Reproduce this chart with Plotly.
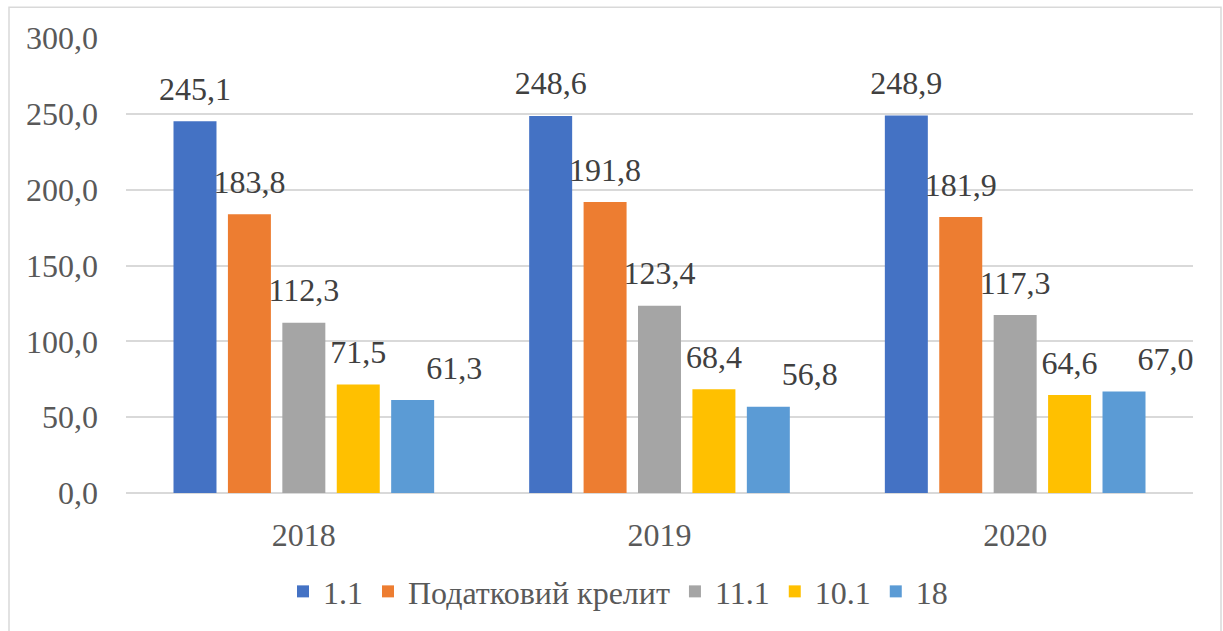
import plotly.graph_objects as go

years = ["2018", "2019", "2020"]
series_names = ["1.1", "Податковий крелит", "11.1", "10.1", "18"]
v_1_1 = [245.1, 248.6, 248.9]
v_credit = [183.8, 191.8, 181.9]
v_11_1 = [112.3, 123.4, 117.3]
v_10_1 = [71.5, 68.4, 64.6]
v_18 = [61.3, 56.8, 67.0]
colors = ["#4472C4", "#ED7D31", "#A5A5A5", "#FFC000", "#5B9BD5"]
# Excel nudges the last series' labels to the right so they don't collide
label_pos = ["top center", "top center", "top center", "top center", "top right"]

font = "Liberation Serif"
fs = 32

fig = go.Figure()
all_vals = [v_1_1, v_credit, v_11_1, v_10_1, v_18]
for i, (name, vals, col) in enumerate(zip(series_names, all_vals, colors)):
    fig.add_trace(go.Bar(
        x=years, y=vals, name=name, offsetgroup=str(i),
        marker=dict(color=col, line=dict(width=0)),
    ))
# value labels, placed above each bar
for i, vals in enumerate(all_vals):
    fig.add_trace(go.Scatter(
        x=years, y=vals, offsetgroup=str(i), mode="markers+text",
        marker=dict(size=20, opacity=0), showlegend=False, hoverinfo="skip",
        text=[f"{v:.1f}".replace(".", ",") for v in vals], textposition=label_pos[i],
        textfont=dict(family=font, size=fs, color="#404040"), cliponaxis=False,
    ))

W, H = 1223, 631
ml, mr, mt, mb = 126, 30, 38, 136
pw, ph = W - ml - mr, H - mt - mb

def px_x(p):
    return (p - ml) / pw

def px_y(p):
    return (H - mb - p) / ph

fig.update_layout(
    width=W, height=H,
    margin=dict(l=ml, r=mr, t=mt, b=mb),
    paper_bgcolor="white", plot_bgcolor="white",
    separators=", ",
    barmode="group", bargap=0.235, bargroupgap=0.21,
    scattermode="group", scattergap=0.235,
    font=dict(family=font, size=fs, color="#595959"),
    showlegend=True,
    legend=dict(orientation="h", x=px_x(618), xanchor="center",
                y=px_y(594), yanchor="middle",
                font=dict(family=font, size=fs, color="#595959"),
                itemsizing="constant"),
    xaxis=dict(showgrid=False, showline=False, ticks="",
               tickfont=dict(family=font, size=fs, color="#595959"), ticklabelstandoff=20),
    yaxis=dict(range=[0, 300], dtick=50, tickformat=".1f",
               showgrid=True, gridcolor="#D9D9D9", gridwidth=1.5,
               zeroline=True, zerolinecolor="#D9D9D9", zerolinewidth=1.5,
               showline=False, ticks="",
               tickfont=dict(family=font, size=fs, color="#595959"), ticklabelstandoff=27),
    shapes=[dict(type="rect", xref="paper", yref="paper",
                 x0=px_x(9), x1=px_x(1221), y0=px_y(640), y1=px_y(7),
                 line=dict(color="#D9D9D9", width=1.5), fillcolor="rgba(0,0,0,0)")],
)

fig.write_html("out.html", config={"displayModeBar": False},
               post_script="document.body.style.margin='0';")
